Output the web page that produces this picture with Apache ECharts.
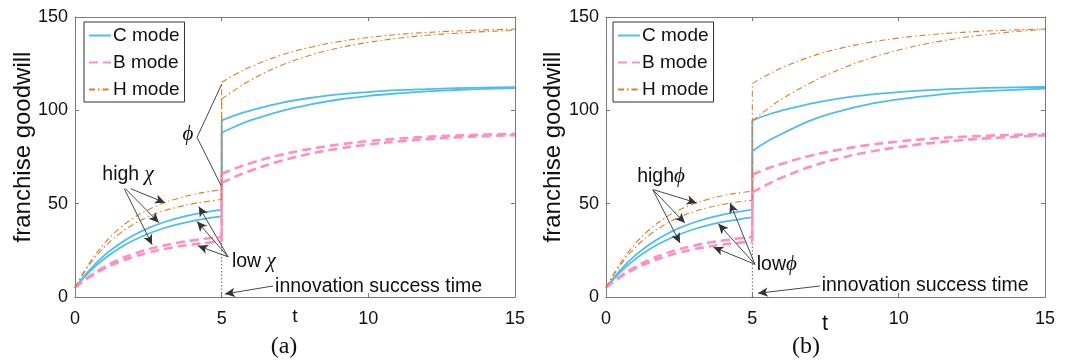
<!DOCTYPE html>
<html><head><meta charset="utf-8">
<script src="https://cdn.jsdelivr.net/npm/echarts@6/dist/echarts.min.js"></script>
<style>html,body{margin:0;padding:0;background:#fff}#c{width:1070px;height:360px}</style>
</head><body><div id="c"></div>
<script>
// time grids (before and after the innovation success time t = 5)
const tPre  = [0, 0.5, 1, 1.5, 2, 2.5, 3, 3.5, 4, 4.5, 5];
const tPost = [5, 5.5, 6, 7, 8, 9, 10, 11, 12, 13, 14, 15];
const xTicks = [0, 5, 10, 15];
const yTicks = [0, 50, 100, 150];
const seriesNames = ['C mode', 'B mode', 'H mode'];

// panel (a): high / low chi
const aCHighPre  = [5, 14.6, 22.3, 28.3, 33.1, 36.9, 39.9, 42.3, 44.1, 45.6, 46.8];
const aCLowPre   = [5, 13.6, 20.5, 26.0, 30.4, 33.9, 36.7, 38.9, 40.7, 42.1, 43.2];
const aBHighPre  = [5, 11.2, 16.1, 20.0, 23.1, 25.6, 27.5, 29.1, 30.3, 31.3, 32.1];
const aBLowPre   = [5, 10.7, 15.2, 18.7, 21.5, 23.8, 25.6, 27.0, 28.1, 29.0, 29.7];
const aHHighPre  = [5, 18.4, 28.7, 36.5, 42.4, 46.8, 50.2, 52.8, 54.8, 56.3, 57.4];
const aHLowPre   = [5, 17.4, 26.7, 33.7, 39.0, 43.0, 46.0, 48.2, 49.9, 51.2, 52.2];
const aCHighPost = [94.6, 97.6, 100.0, 103.9, 106.6, 108.5, 109.8, 110.8, 111.4, 111.9, 112.2, 112.4];
const aCLowPost  = [88.0, 91.6, 94.7, 99.5, 103.1, 105.8, 107.7, 109.1, 110.2, 110.9, 111.5, 111.9];
const aBHighPost = [66.0, 69.1, 71.8, 76.1, 79.3, 81.7, 83.5, 84.8, 85.8, 86.5, 87.0, 87.4];
const aBLowPost  = [61.1, 64.7, 67.8, 72.8, 76.7, 79.5, 81.7, 83.3, 84.5, 85.5, 86.2, 86.7];
const aHHighPost = [115.0, 119.6, 123.4, 129.4, 133.7, 136.8, 139.0, 140.6, 141.7, 142.5, 143.1, 143.5];
const aHLowPost  = [106.0, 111.5, 116.3, 123.9, 129.4, 133.5, 136.4, 138.6, 140.2, 141.3, 142.2, 142.8];

// panel (b): high / low phi
const bCHighPre  = [5, 14.6, 22.3, 28.3, 33.1, 36.9, 39.9, 42.3, 44.1, 45.6, 46.8];
const bCLowPre   = [5, 13.5, 20.3, 25.7, 30.0, 33.5, 36.3, 38.5, 40.2, 41.5, 42.6];
const bBHighPre  = [5, 11.2, 16.1, 20.0, 23.1, 25.6, 27.5, 29.1, 30.3, 31.3, 32.1];
const bBLowPre   = [5, 10.7, 15.2, 18.7, 21.5, 23.8, 25.6, 27.0, 28.1, 29.0, 29.7];
const bHHighPre  = [5, 18.3, 28.5, 36.3, 42.2, 46.6, 49.9, 52.4, 54.3, 55.7, 56.7];
const bHLowPre   = [5, 17.3, 26.5, 33.4, 38.7, 42.7, 45.7, 47.9, 49.6, 50.9, 51.8];
const bCHighPost = [94.6, 97.5, 99.8, 103.6, 106.4, 108.4, 109.8, 110.8, 111.5, 112.0, 112.3, 112.5];
const bCLowPost  = [78.1, 83.3, 87.3, 94.6, 99.6, 103.3, 105.9, 107.8, 109.3, 110.3, 111.0, 111.6];
const bBHighPost = [65.6, 68.7, 71.3, 75.7, 79.0, 81.5, 83.3, 84.7, 85.7, 86.4, 86.9, 87.2];
const bBLowPost  = [56.0, 60.2, 63.9, 69.9, 74.4, 77.8, 80.3, 82.3, 83.8, 85.0, 85.9, 86.6];
const bHHighPost = [114.3, 118.8, 122.7, 128.8, 133.2, 136.4, 138.7, 140.4, 141.6, 142.5, 143.1, 143.6];
const bHLowPost  = [94.3, 100.5, 106.0, 114.8, 122.0, 127.8, 132.3, 135.8, 138.5, 140.6, 142.2, 143.4];

const FONT = 'Liberation Sans, Arial, sans-serif';
const SERIF = 'Liberation Serif, DejaVu Serif, serif';
const axisC = '#7a7a7a';
const styles = {
  'C mode': {color: '#4DBEEE', width: 1.8, type: 'solid'},
  'B mode': {color: '#FF8EC6', width: 2.6, type: [9, 5]},
  'H mode': {color: '#DE7F24', width: 1.1, type: [6, 3, 1.5, 3]}
};

function pairs(ts, vs) { return ts.map((t, i) => [t, vs[i]]); }

const series = [];
function addCurve(name, gi, pre, post) {
  const st = styles[name];
  const base = {
    name: name, type: 'line', xAxisIndex: gi * 2, yAxisIndex: gi * 2,
    symbol: 'none', silent: true, animation: false,
    lineStyle: {color: st.color, width: st.width, type: st.type},
    itemStyle: {color: st.color}
  };
  series.push(Object.assign({}, base, {smooth: 0.4, data: pairs(tPre, pre)}));
  series.push(Object.assign({}, base, {data: [[5, pre[pre.length - 1]], [5, post[0]]]}));
  series.push(Object.assign({}, base, {smooth: 0.4, data: pairs(tPost, post)}));
}

const panels = [
  {C: [[aCHighPre, aCHighPost], [aCLowPre, aCLowPost]],
   B: [[aBHighPre, aBHighPost], [aBLowPre, aBLowPost]],
   H: [[aHHighPre, aHHighPost], [aHLowPre, aHLowPost]]},
  {C: [[bCHighPre, bCHighPost], [bCLowPre, bCLowPost]],
   B: [[bBHighPre, bBHighPost], [bBLowPre, bBLowPost]],
   H: [[bHHighPre, bHHighPost], [bHLowPre, bHLowPost]]}
];

// annotation geometry in data coordinates (t, goodwill)
const annA = {
  greek: 'χ',
  highText: [1.81, 65.6], lowText: [5.35, 19.0],
  highFrom: [[1.9, 58], [1.72, 58], [1.68, 58]],
  highTo: [[3.07, 50.5], [2.86, 39.8], [2.63, 28.0]],
  lowFrom: [[5.22, 21.5], [5.22, 21.5], [5.22, 21.5]],
  lowTo: [[4.22, 48.5], [4.16, 40.5], [4.19, 27.4]],
  innovText: [6.82, 5.6], innovFrom: [6.75, 5.9], innovTo: [5.11, 1.6],
  phi: true
};
const annB = {
  greek: 'ϕ',
  highText: [1.88, 64.5], lowText: [5.15, 17.2],
  highFrom: [[1.62, 57.5], [1.6, 57.5], [1.6, 57.5]],
  highTo: [[3.1, 50.4], [2.7, 39.6], [2.53, 28.9]],
  lowFrom: [[5.09, 17.5], [5.09, 17.5], [5.09, 17.5]],
  lowTo: [[4.24, 50.4], [3.84, 39.2], [3.67, 26.7]],
  innovText: [7.37, 6.3], innovFrom: [7.31, 5.9], innovTo: [5.19, 2.0],
  phi: false
};

function annotations(gi, ann, preLow) {
  const lines = [];
  const arrow = (f, t) => [{coord: f, symbol: 'none'}, {coord: t, symbol: 'arrow', symbolSize: [7, 10]}];
  for (let i = 0; i < 3; i++) lines.push(arrow(ann.highFrom[i], ann.highTo[i]));
  for (let i = 0; i < 3; i++) lines.push(arrow(ann.lowFrom[i], ann.lowTo[i]));
  lines.push(arrow(ann.innovFrom, ann.innovTo));
  if (ann.phi) {
    lines.push([{coord: [4.16, 85.5], symbol: 'none'}, {coord: [5.0, 114], symbol: 'none'}]);
    lines.push([{coord: [4.16, 85.5], symbol: 'none'}, {coord: [4.98, 59.7], symbol: 'none'}]);
  }
  const rich = {
    a: {fontFamily: FONT, fontSize: 19.5, color: '#111'},
    g: {fontFamily: SERIF, fontStyle: 'italic', fontSize: 21, color: '#111'}
  };
  const sep = gi === 0 ? ' ' : '';
  const points = [
    {coord: ann.highText, label: {position: 'inside', formatter: '{a|high' + sep + '}{g|' + ann.greek + '}'}},
    {coord: ann.lowText, label: {position: 'right', distance: 0, formatter: '{a|low' + sep + '}{g|' + ann.greek + '}'}},
    {coord: ann.innovText, label: {position: 'right', distance: 0, formatter: '{a|innovation success time}'}}
  ];
  if (ann.phi) points.push({coord: [3.85, 87], label: {position: 'inside', formatter: '{g|ϕ}'}});
  return {
    name: 'guide', type: 'line', xAxisIndex: gi * 2, yAxisIndex: gi * 2,
    symbol: 'none', silent: true, animation: false, z: 1,
    lineStyle: {color: '#666', width: 1, type: [1.5, 2]},
    data: [[5, 0], [5, preLow]],
    markLine: {
      silent: true, animation: false, symbol: ['none', 'arrow'],
      label: {show: false},
      lineStyle: {color: '#333', width: 0.9, type: 'solid'},
      emphasis: {disabled: true},
      data: lines
    },
    markPoint: {
      silent: true, animation: false, symbol: 'circle', symbolSize: 0,
      itemStyle: {color: 'rgba(0,0,0,0)'},
      label: {show: true, rich: rich, color: '#111'},
      data: points
    }
  };
}

series.push(annotations(0, annA, aBLowPre[aBLowPre.length - 1]));
series.push(annotations(1, annB, bBLowPre[bBLowPre.length - 1]));
for (let gi = 0; gi < 2; gi++) {
  const p = panels[gi];
  [['C mode', p.C], ['B mode', p.B], ['H mode', p.H]].forEach(([n, arr]) => {
    arr.forEach(([pre, post]) => addCurve(n, gi, pre, post));
  });
}

const grids = [
  {left: 75, top: 17, width: 440, height: 280},
  {left: 606, top: 17, width: 439, height: 280}
];
const xAxes = [], yAxes = [];
grids.forEach((g, gi) => {
  const common = {
    gridIndex: gi, type: 'value', min: xTicks[0], max: xTicks[xTicks.length - 1],
    interval: xTicks[1] - xTicks[0],
    axisLine: {show: true, onZero: false, lineStyle: {color: axisC, width: 1}},
    axisTick: {show: true, inside: true, length: 4, lineStyle: {color: axisC}},
    splitLine: {show: false}
  };
  xAxes.push(Object.assign({}, common, {
    position: 'bottom',
    axisLabel: {color: '#111', fontSize: 18, fontFamily: FONT, margin: 13}
  }));
  xAxes.push(Object.assign({}, common, {position: 'top', axisLabel: {show: false}}));
  const ycommon = {
    gridIndex: gi, type: 'value', min: yTicks[0], max: yTicks[yTicks.length - 1],
    interval: yTicks[1] - yTicks[0],
    axisLine: {show: true, onZero: false, lineStyle: {color: axisC, width: 1}},
    axisTick: {show: true, inside: true, length: 4, lineStyle: {color: axisC}},
    splitLine: {show: false}
  };
  yAxes.push(Object.assign({}, ycommon, {
    position: 'left',
    axisLabel: {color: '#111', fontSize: 18, fontFamily: FONT, margin: 7}
  }));
  yAxes.push(Object.assign({}, ycommon, {position: 'right', axisLabel: {show: false}}));
});

const legendBase = {
  data: seriesNames, orient: 'vertical', top: 22, selectedMode: false,
  borderColor: '#333', borderWidth: 1, backgroundColor: '#fff',
  padding: [4, 5, 3, 4], itemGap: 8, itemWidth: 22, itemHeight: 14,
  itemStyle: {opacity: 0},
  textStyle: {fontSize: 19, fontFamily: FONT, color: '#111', padding: [0, 0, 0, -3]}
};

const txt = (x, y, text, font, rot) => ({
  type: 'text', x: x, y: y, rotation: rot || 0, silent: true,
  style: {text: text, font: font, fill: '#111', textAlign: 'center', textVerticalAlign: 'middle'}
});

const option = {
  animation: false,
  backgroundColor: '#fff',
  grid: grids,
  xAxis: xAxes,
  yAxis: yAxes,
  legend: [Object.assign({}, legendBase, {left: 84}), Object.assign({}, legendBase, {left: 613})],
  series: series,
  graphic: [
    txt(23, 147, 'franchise goodwill', '24px ' + FONT, Math.PI / 2),
    txt(553, 147, 'franchise goodwill', '24px ' + FONT, Math.PI / 2),
    txt(295, 317, 't', '19px ' + FONT),
    txt(825, 324, 't', '22px ' + FONT),
    txt(284, 347, '(a)', '24px ' + SERIF),
    txt(806, 347, '(b)', '24px ' + SERIF)
  ]
};
const chart = echarts.init(document.getElementById('c'));
chart.setOption(option);
</script>
</body></html>
